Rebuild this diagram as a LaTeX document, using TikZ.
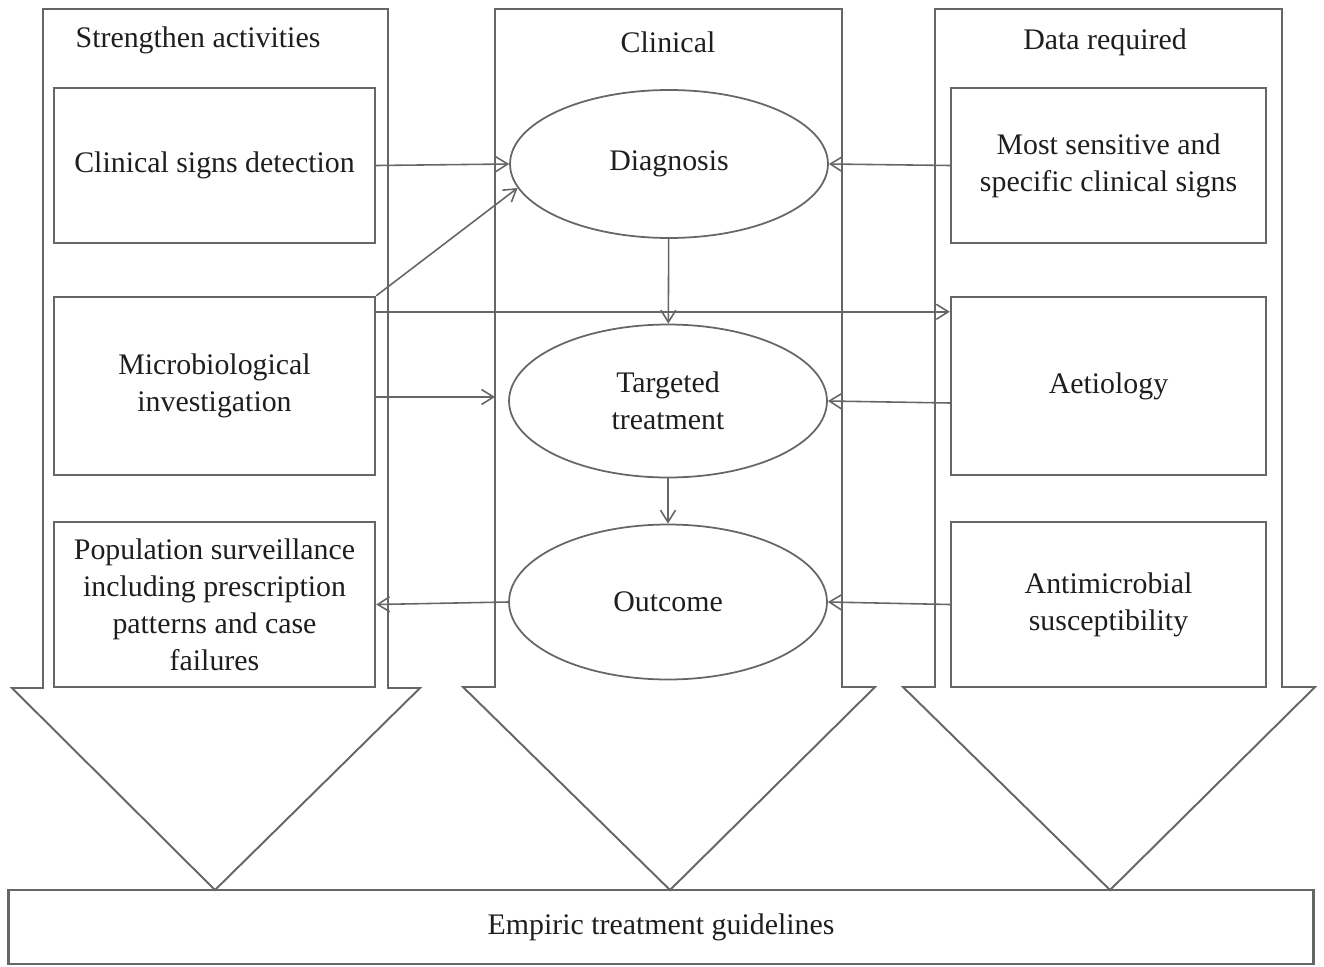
\documentclass[tikz,border=0pt]{standalone}
\usepackage{fontspec}
\setmainfont{Liberation Serif}
\usetikzlibrary{arrows.meta,shapes.geometric}
\definecolor{linegray}{HTML}{666666}
\definecolor{textgray}{HTML}{1E1E1E}
\tikzset{
  every node/.style={font=\fontsize{17}{21}\selectfont, text=textgray},
  box/.style={draw=linegray, line width=1.4pt, minimum width=6.42cm, inner sep=0pt, align=center},
  oval/.style={ellipse, draw=linegray, line width=1pt, minimum width=6.36cm, inner sep=0pt, align=center},
  conn/.style={draw=linegray, line width=0.9pt, -{Straight Barb[length=2.4mm,width=3mm]}},
  bigarrow/.style={draw=linegray, line width=1.1pt, line join=miter},
}
\begin{document}
\begin{tikzpicture}[x=0.02cm, y=-0.02cm]
    \useasboundingbox (0,0) rectangle (1324,966);
    % the three wide arrows
    \draw[bigarrow] (43,9) -- (388,9) -- (388,688) -- (420,688) -- (215,890) -- (12,688) -- (43,688) -- cycle;
    \draw[bigarrow] (495,9) -- (842,9) -- (842,687) -- (875,687) -- (670,890) -- (463,687) -- (495,687) -- cycle;
    \draw[bigarrow] (935,9) -- (1282,9) -- (1282,687) -- (1315,687) -- (1110,890) -- (903,687) -- (935,687) -- cycle;
    \node (titleL) at (198,40) {Strengthen activities};
    \node (titleM) at (668,42) {Clinical};
    \node (titleR) at (1105,42) {Data required};
    % left column
    \node[box, minimum height=3.1cm] (signs) at (214.5,165.5) {Clinical signs detection};
    \node[box, minimum height=3.56cm] (micro) at (214.5,386) {Microbiological\\investigation};
    \node[box, minimum height=3.3cm] (pop) at (214.5,604.5) {Population surveillance\\including prescription\\patterns and case\\failures};
    % middle column
    \node[oval, minimum height=2.96cm] (diag) at (669,164) {Diagnosis};
    \node[oval, minimum height=3.06cm] (treat) at (668,401) {Targeted\\treatment};
    \node[oval, minimum height=3.1cm] (outc) at (668,602) {Outcome};
    \coordinate (shaftM) at (495,397);
    % right column
    \node[box, minimum width=6.3cm, minimum height=3.1cm] (sens) at (1108.5,165.5) {Most sensitive and\\specific clinical signs};
    \node[box, minimum width=6.3cm, minimum height=3.56cm] (aet) at (1108.5,386) {Aetiology};
    \node[box, minimum width=6.3cm, minimum height=3.3cm] (anti) at (1108.5,604.5) {Antimicrobial\\susceptibility};
    \node[box, minimum width=26.1cm, minimum height=1.48cm] (guide) at (661,927) {Empiric treatment guidelines};
    % connectors
    \draw[conn] (signs.east) -- (diag.west);
    \draw[conn] (micro.north east) -- (diag.189.5);
    \draw[conn] ([yshift=-3.2mm]micro.north east) -- ([yshift=-3.2mm]aet.north west);
    \draw[conn] ([yshift=-2.2mm]micro.east) -- (shaftM);
    \draw[conn] (diag) -- (treat);
    \draw[conn] (treat) -- (outc);
    \draw[conn] (sens.west) -- (diag.east);
    \draw[conn] ([yshift=-3.4mm]aet.west) -- (treat.east);
    \draw[conn] (anti.west) -- (outc.east);
    \draw[conn] (outc.west) -- (pop.east);
\end{tikzpicture}
\end{document}
